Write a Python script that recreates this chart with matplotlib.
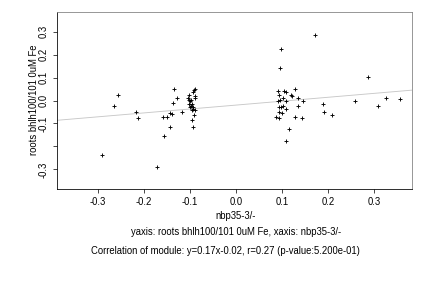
#!/usr/bin/env python3

import numpy as np
import matplotlib
matplotlib.use('Agg')
from matplotlib import pyplot as plt

plt.rcParams['font.family'] = ['Liberation Sans', 'DejaVu Sans']

# values
x_vals = [-0.291, -0.265, -0.256, -0.217, -0.212, -0.171,
          -0.159, -0.149, -0.143, -0.156, -0.143, -0.139, -0.117, -0.134, -0.128, -0.136,
          -0.104, -0.102, -0.102, -0.100, -0.098, -0.102, -0.098, -0.096, -0.094, -0.100,
          -0.093, -0.096, -0.089, -0.091, -0.096, -0.094, -0.091, -0.088, -0.093, -0.088, -0.088,
          0.172, 0.098, 0.096, 0.092, 0.105, 0.109, 0.094, 0.129, 0.120, 0.122, 0.102, 0.096,
          0.091, 0.108, 0.134, 0.146, 0.102, 0.093, 0.097, 0.108, 0.101, 0.094, 0.135, 0.088,
          0.094, 0.128, 0.144, 0.190, 0.192, 0.209, 0.116, 0.109,
          0.286, 0.259, 0.327, 0.309, 0.357]
y_vals = [-0.236, -0.026, 0.022, -0.052, -0.074, -0.291,
          -0.073, -0.073, -0.116, -0.155, -0.054, -0.058, -0.052, 0.048, 0.013, -0.013,
          0.009, 0.026, 0.004, 0.000, 0.004, -0.017, -0.022, -0.017, -0.027, -0.027,
          -0.039, -0.043, -0.043, -0.061, -0.086, -0.116, 0.045, 0.048, 0.036, 0.019, 0.009,
          0.287, 0.222, 0.143, 0.043, 0.043, 0.039, 0.025, 0.048, 0.025, 0.020, 0.009, 0.004,
          -0.003, -0.003, 0.009, -0.004, -0.022, -0.027, -0.027, -0.036, -0.053, -0.049, -0.026, -0.070,
          -0.074, -0.070, -0.074, -0.017, -0.048, -0.065, -0.122, -0.175,
          0.104, -0.003, 0.009, -0.022, 0.006]
slope = 0.17
intercept = -0.02
x_ticks = [-0.3, -0.2, -0.1, 0.0, 0.1, 0.2, 0.3]
y_ticks = [-0.3, -0.2, -0.1, 0.0, 0.1, 0.2, 0.3]
y_ticklabels = ['-0.3', '', '-0.1', '0.0', '0.1', '0.2', '0.3']

fs = 9.5

fig = plt.figure(figsize=(6, 4), dpi=72)
ax = fig.add_axes([0.132, 1 - 189 / 288, 0.822, (189 - 12) / 288])

xlim = (-0.389, 0.383)
ax.set_xlim(xlim)
ax.set_ylim(-0.385, 0.385)

# regression line
lx = np.array(xlim)
ax.plot(lx, slope * lx + intercept, color='#c8c8c8', lw=0.9, zorder=1)

ax.scatter(x_vals, y_vals, marker='+', s=18, c='black', linewidths=0.9, zorder=2)

ax.set_xticks(x_ticks)
ax.set_xticklabels(['%.1f' % v for v in x_ticks], fontsize=fs)
ax.set_yticks(y_ticks)
ax.set_yticklabels(y_ticklabels, fontsize=fs, rotation=90, va='center')
ax.tick_params(direction='out', length=4, width=0.7, pad=4)

for s in ['left', 'bottom']:
    ax.spines[s].set_color('black')
    ax.spines[s].set_linewidth(0.8)
for s in ['top', 'right']:
    ax.spines[s].set_color('#808080')
    ax.spines[s].set_linewidth(0.8)

fig.text(34 / 432, 1 - 100 / 288, 'roots bhlh100/101 0uM Fe', fontsize=fs,
         rotation=90, ha='center', va='center')

fig.text(0.546, 1 - 216 / 288, 'nbp35-3/-', fontsize=fs, ha='center', va='center')
fig.text(0.546, 1 - 232 / 288, 'yaxis: roots bhlh100/101 0uM Fe, xaxis: nbp35-3/-',
         fontsize=fs, ha='center', va='center')
fig.text(0.523, 1 - 251 / 288,
         'Correlation of module: y=0.17x-0.02, r=0.27 (p-value:5.200e-01)',
         fontsize=fs, ha='center', va='center')

fig.savefig('out.png', dpi=72)
